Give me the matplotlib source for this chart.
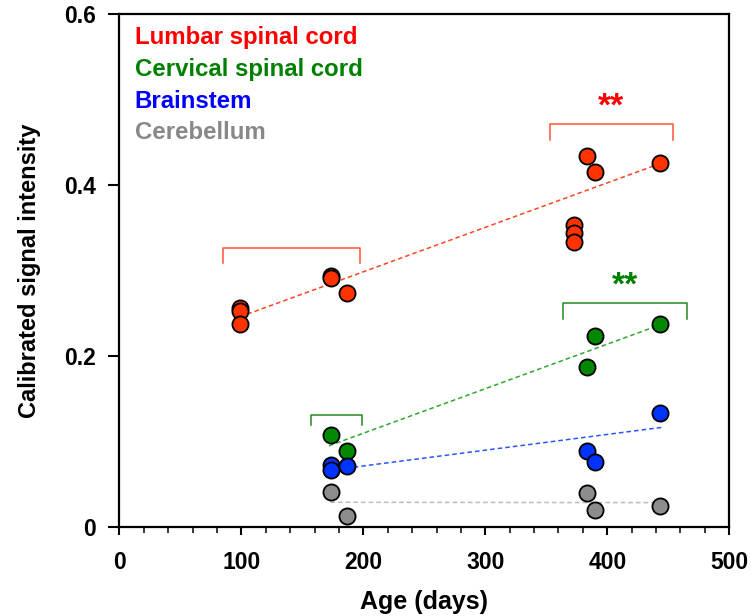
import numpy as np
import matplotlib
matplotlib.use("Agg")
import matplotlib.pyplot as plt

plt.rcParams['font.family'] = ['Liberation Sans', 'DejaVu Sans']

# data
lumbar_age = [99, 99, 99, 173.5, 173.5, 187, 383.5, 390, 372.6, 372.6, 372.6, 443]
lumbar_sig = [0.256, 0.253, 0.237, 0.2936, 0.2916, 0.274, 0.434, 0.415, 0.353, 0.3435, 0.3337, 0.4253]

cervical_age = [173.5, 187, 383.5, 390, 443]
cervical_sig = [0.108, 0.0885, 0.1875, 0.2238, 0.237]

brainstem_age = [173.5, 173.5, 187, 383.5, 390, 443]
brainstem_sig = [0.0725, 0.0667, 0.071, 0.0893, 0.0757, 0.133]

cerebellum_age = [173.5, 187, 383.5, 390, 443]
cerebellum_sig = [0.0406, 0.0132, 0.0401, 0.0195, 0.0246]

# fitted trend lines as drawn in the figure (start / end)
lumbar_trend_age = [99, 443]
lumbar_trend = [0.246, 0.425]
cervical_trend_age = [171.8, 443]
cervical_trend = [0.095, 0.2363]
brainstem_trend_age = [173.5, 445]
brainstem_trend = [0.0665, 0.1166]
cerebellum_trend_age = [173, 445]
cerebellum_trend = [0.0289, 0.0285]

names_ = ['Lumbar spinal cord', 'Cervical spinal cord', 'Brainstem', 'Cerebellum']
text_cols = ['#ff0000', '#008000', '#0000ff', '#888888']
fill_cols = ['#ff3300', '#008800', '#0033ff', '#8c8c8c']
line_cols = ['#ff4422', '#2ea82e', '#2a55ff', '#bbbbbb']

# significance brackets: (x0, x1, y top, y legs, colour, stars)
brackets = [
    (85.3, 197.2, 0.327, 0.309, '#ff5533', ''),
    (352.7, 454.2, 0.471, 0.4526, '#ff5533', '**'),
    (157.4, 199.1, 0.1306, 0.1197, '#1e8c1e', ''),
    (363.6, 465.4, 0.2616, 0.2433, '#1e8c1e', '**'),
]
star_cols = {'#ff5533': '#ff0000', '#1e8c1e': '#008000'}

fig = plt.figure(figsize=(7.51, 6.16), dpi=100)
ax = fig.add_axes([0.159, 0.1445, 0.812, 0.8325])

groups = [(lumbar_age, lumbar_sig), (cervical_age, cervical_sig),
          (brainstem_age, brainstem_sig), (cerebellum_age, cerebellum_sig)]
trends = [(lumbar_trend_age, lumbar_trend), (cervical_trend_age, cervical_trend),
          (brainstem_trend_age, brainstem_trend), (cerebellum_trend_age, cerebellum_trend)]

# trend lines first, dots on top
for (tx, ty), lc in zip(trends, line_cols):
    ax.plot(tx, ty, '--', color=lc, lw=1.1, dashes=(3, 2), zorder=2)

for (xs, ys), fc in zip(groups, fill_cols):
    ax.scatter(xs, ys, s=135, c=fc, edgecolors='black', linewidths=1.3, zorder=3)

for x0, x1, yt, yl, col, stars in brackets:
    ax.plot([x0, x0, x1, x1], [yl, yt, yt, yl], color=col, lw=1.1, zorder=2)
    if stars:
        ax.text((x0 + x1) / 2, yt + 0.002, stars, color=star_cols[col], ha='center',
                va='bottom', fontsize=24, fontweight='bold')

for i, (nm, tc) in enumerate(zip(names_, text_cols)):
    ax.text(0.025, 0.955 - i * 0.0622, nm, color=tc, transform=ax.transAxes,
            fontsize=17.3, fontweight='bold', va='center', ha='left')

ax.set_xlim(0, 500)
ax.set_ylim(0, 0.6)
ax.set_xticks(np.arange(0, 501, 100))
ax.set_xticks(np.arange(0, 501, 20), minor=True)
ax.set_yticks([0, 0.2, 0.4, 0.6])
ax.set_yticklabels(['0', '0.2', '0.4', '0.6'])
ax.tick_params(axis='both', which='major', direction='out', length=7, width=1.5,
               labelsize=16.5)
ax.tick_params(axis='x', which='major', length=6, pad=11)
ax.tick_params(axis='y', which='major', length=8, pad=9)
ax.tick_params(axis='x', which='minor', direction='out', length=4, width=1.1)
for lab in ax.get_xticklabels() + ax.get_yticklabels():
    lab.set_fontweight('bold')
for sp in ax.spines.values():
    sp.set_linewidth(1.6)

ax.set_xlabel('Age (days)', fontsize=18, fontweight='bold')
ax.set_ylabel('Calibrated signal intensity', fontsize=17, fontweight='bold')
ax.xaxis.set_label_coords(0.5, -0.123)
ax.yaxis.set_label_coords(-0.128, 0.5)

fig.savefig('out.png', dpi=100)
